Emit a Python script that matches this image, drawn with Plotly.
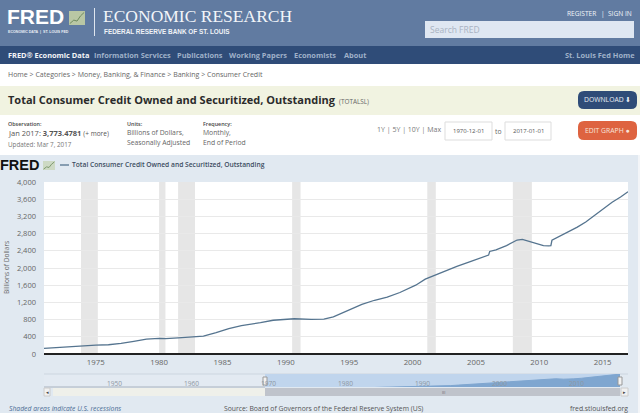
import plotly.graph_objects as go

# ---- data ----
series_name = "Total Consumer Credit Owned and Securitized, Outstanding"
early_dates = ["1943-01-01", "1946-01-01", "1950-01-01", "1955-01-01", "1960-01-01", "1965-01-01", "1968-01-01"]
early_values = [6, 6, 20, 40, 60, 90, 110]
dates = ["1970-12-01", "1972-01-01", "1973-01-01", "1974-01-01", "1975-01-01", "1976-01-01", "1977-01-01",
         "1978-01-01", "1979-01-01", "1980-01-01", "1980-07-01", "1981-07-01", "1982-07-01", "1983-07-01",
         "1984-07-01", "1985-07-01", "1986-07-01", "1987-01-01", "1988-01-01", "1989-01-01", "1990-01-01",
         "1990-09-01", "1992-01-01", "1993-01-01", "1993-10-01", "1995-01-01", "1996-01-01", "1997-01-01",
         "1998-01-01", "1999-01-01", "2000-04-01", "2001-01-01", "2002-01-01", "2002-09-01", "2003-07-01",
         "2004-07-01", "2005-11-01", "2006-01-01", "2006-02-01", "2006-08-01", "2007-06-01", "2008-04-01",
         "2008-09-01", "2009-09-01", "2010-05-01", "2010-10-01", "2010-12-01", "2011-01-01", "2012-01-01",
         "2013-01-01", "2013-09-01", "2015-01-01", "2015-10-01", "2016-06-01", "2017-01-01"]
values = [132, 155, 175, 190, 205, 215, 245, 295, 345, 362, 358, 375, 395, 415, 495, 590, 660, 680, 730, 785, 815,
          820, 805, 812, 866, 1030, 1155, 1250, 1325, 1430, 1600, 1740, 1860, 1950, 2040, 2145, 2285, 2300, 2385,
          2420, 2520, 2650, 2665, 2570, 2520, 2515, 2520, 2645, 2790, 2950, 3070, 3360, 3530, 3650, 3773]
recession_starts = ["1973-11-01", "1980-01-01", "1981-07-01", "1990-07-01", "2001-03-01", "2007-12-01"]
recession_ends = ["1975-03-01", "1980-07-01", "1982-11-01", "1991-03-01", "2001-11-01", "2009-06-01"]
y_ticks = [0, 400, 800, 1200, 1600, 2000, 2400, 2800, 3200, 3600, 4000]
x_tick_years = [1975, 1980, 1985, 1990, 1995, 2000, 2005, 2010, 2015]
nav_tick_years = [1950, 1960, 1970, 1980, 1990, 2000, 2010]

W, H = 640, 413
def px(x): return x / W
def py(y): return 1 - y / H

shapes, ann = [], []
def rect(x0, y0, x1, y1, color, line=None, layer="below"):
    shapes.append(dict(type="rect", xref="paper", yref="paper", x0=px(x0), x1=px(x1), y0=py(y0), y1=py(y1),
                       fillcolor=color, line=dict(color=line or color, width=1 if line else 0), layer=layer))
def rrect(x0, y0, x1, y1, r, color):
    # rounded button outline in page pixels
    xs = lambda v: px(v)
    ys = lambda v: py(v)
    p = (f"M {xs(x0 + r)} {ys(y0)} L {xs(x1 - r)} {ys(y0)} Q {xs(x1)} {ys(y0)} {xs(x1)} {ys(y0 + r)} "
         f"L {xs(x1)} {ys(y1 - r)} Q {xs(x1)} {ys(y1)} {xs(x1 - r)} {ys(y1)} L {xs(x0 + r)} {ys(y1)} "
         f"Q {xs(x0)} {ys(y1)} {xs(x0)} {ys(y1 - r)} L {xs(x0)} {ys(y0 + r)} Q {xs(x0)} {ys(y0)} {xs(x0 + r)} {ys(y0)} Z")
    shapes.append(dict(type="path", xref="paper", yref="paper", path=p, fillcolor=color, line=dict(width=0), layer="below"))
def hline(x0, x1, y, color, w=1):
    shapes.append(dict(type="line", xref="paper", yref="paper", x0=px(x0), x1=px(x1), y0=py(y), y1=py(y),
                       line=dict(color=color, width=w), layer="below"))
def spark(x0, y0, x1, y1, color):
    # small rising line of the FRED logo
    w, h = x1 - x0, y1 - y0
    fr = [(0.05, 0.9), (0.3, 0.65), (0.5, 0.72), (0.72, 0.35), (0.95, 0.1)]
    p = "M " + " L ".join(f"{px(x0 + a * w)} {py(y0 + b * h)}" for a, b in fr)
    shapes.append(dict(type="path", xref="paper", yref="paper", path=p, line=dict(color=color, width=1), layer="below"))
def text(x, y, s, size=9, color="#555555", anchor="left", font="Open Sans", weight=None, italic=False):
    f = dict(size=size, color=color, family=font)
    if weight: f["weight"] = weight
    if italic: f["style"] = "italic"
    ann.append(dict(xref="paper", yref="paper", x=px(x), y=py(y), text=s, showarrow=False, xanchor=anchor,
                    yanchor="middle", font=f, borderpad=0, borderwidth=0))

# page bands
rect(0, 0, 640, 46, "#617ba1")
rect(0, 46, 640, 64, "#2f4c78")
rect(0, 64, 640, 86, "#ffffff")
rect(0, 86, 640, 115, "#f1f3e1")
rect(0, 115, 640, 155, "#ffffff")
rect(0, 155, 640, 413, "#e1e9f1")
rect(638, 155, 640, 413, "#f3f5f8")
rect(44, 182, 628, 354, "#ffffff")

# header
text(7, 17, "FRED", 21, "#ffffff", font="Liberation Sans", weight=700)
rect(69, 11, 85, 25, "#b9c7a4")
spark(69, 11, 85, 25, "#6f8a5f")
text(8, 32, "ECONOMIC DATA  |  ST. LOUIS FED", 3.6, "#e8edf4", font="Liberation Sans", weight=700)
shapes.append(dict(type="line", xref="paper", yref="paper", x0=px(94.5), x1=px(94.5), y0=py(8), y1=py(36),
                   line=dict(color="#dfe6ef", width=1)))
text(103, 16, "ECONOMIC RESEARCH", 17.5, "#f2f5f9", font="Liberation Serif")
text(104, 31, "FEDERAL RESERVE BANK OF ST. LOUIS", 6.4, "#f0f3f7", font="Liberation Sans", weight=700)
text(567, 13.5, "REGISTER", 6.6, "#f2f5f9", font="Open Sans")
text(601, 13.5, "|", 6.6, "#f2f5f9")
text(608, 13.5, "SIGN IN", 6.6, "#f2f5f9", font="Open Sans")
rect(425, 21, 634, 38, "#dfe7f2")
text(430, 29.5, "Search FRED", 8.5, "#a9b3c2")

# navigation bar
text(8, 55, "FRED\u00ae Economic Data", 7.4, "#f3f5f8", font="Open Sans", weight=700)
text(94, 55, "Information Services", 7.4, "#9fb1c9", font="Open Sans", weight=700)
text(177, 55, "Publications", 7.4, "#9fb1c9", font="Open Sans", weight=700)
text(229, 55, "Working Papers", 7.4, "#9fb1c9", font="Open Sans", weight=700)
text(294, 55, "Economists", 7.4, "#9fb1c9", font="Open Sans", weight=700)
text(344, 55, "About", 7.4, "#9fb1c9", font="Open Sans", weight=700)
text(565, 55, "St. Louis Fed Home", 7.4, "#9fb1c9", font="Open Sans", weight=700)

# breadcrumb and title
text(8, 74.5, "Home > Categories > Money, Banking, & Finance > Banking > Consumer Credit", 7, "#666666")
text(8, 100, "Total Consumer Credit Owned and Securitized, Outstanding", 11, "#2b2b2b", weight=700)
text(339, 101, "(TOTALSL)", 6.4, "#666666")
rrect(578, 91, 637, 109, 6, "#2f4c78")
text(607.5, 100, "DOWNLOAD \u2b07", 6.8, "#e8edf4", anchor="center")

# info row
text(8, 124, "Observation:", 5.4, "#444444", weight=600)
text(8, 133.5, "Jan 2017: <b>3,773.4781</b> <span style='font-size:6.5px'>(+ more)</span>", 7.5, "#555555")
text(8, 144, "Updated: Mar 7, 2017", 6.3, "#777777")
text(127, 124, "Units:", 5.4, "#444444", weight=600)
text(127, 132.5, "Billions of Dollars,", 6.8, "#666666")
text(127, 142, "Seasonally Adjusted", 6.8, "#666666")
text(203, 124, "Frequency:", 5.4, "#444444", weight=600)
text(203, 132.5, "Monthly,", 6.8, "#666666")
text(203, 142, "End of Period", 6.8, "#666666")
text(377, 130, "1Y | 5Y | 10Y | Max", 7, "#777777")
rect(445, 122, 492, 140, "#ffffff", "#dddddd")
text(468.5, 131, "1970-12-01", 6, "#555555", anchor="center")
text(495, 131, "to", 6.8, "#666666")
rect(505, 122, 551, 140, "#ffffff", "#dddddd")
text(528, 131, "2017-01-01", 6, "#555555", anchor="center")
rrect(578, 121, 637, 140, 6, "#de6340")
text(607.5, 130.5, "EDIT GRAPH \u25cf", 6.8, "#f7e3da", anchor="center")

# chart header with legend entry
text(0, 165, "FRED", 14.5, "#111111", font="Liberation Sans", weight=700)
rect(43, 161, 55, 170, "#cdd9c4")
spark(43, 161, 55, 170, "#7f9a70")
hline(60, 69, 165, "#55748f", 1.3)
text(72, 165, series_name, 6.7, "#3c4c5f", weight=600)

# recessions
for s, e in zip(recession_starts, recession_ends):
    shapes.append(dict(type="rect", xref="x", yref="y", x0=s, x1=e, y0=0, y1=4000, fillcolor="#e6e6e6",
                       line=dict(width=0), layer="below"))

# navigator
rect(44, 374, 620, 387, "#e3eaf2")
hline(44, 628, 374, "#ccd5df")
rect(265, 374, 620, 387, "#c0d5ed")
hline(44, 265, 387, "#a9b3bf")
rect(53, 388, 265, 396, "#eff0ea")
rect(265, 388, 620, 396, "#bfc3cb")
text(443, 392, "III", 4, "#666666", anchor="center")
rect(44, 388, 50, 396, "#f1f1f1", "#cccccc")
text(47, 392, "\u25c2", 5, "#444444", anchor="center")
rect(621, 388, 628, 396, "#f1f1f1", "#cccccc")
text(624.5, 392, "\u25b8", 5, "#444444", anchor="center")
for hx in (265, 620):
    rect(hx - 2, 377, hx + 2, 385, "#f2f2f2", "#999999", layer="above")
for yr in nav_tick_years:
    ann.append(dict(xref="x2", yref="paper", x=f"{yr}-01-01", y=py(383), xshift=1, text=str(yr), showarrow=False,
                    xanchor="left", yanchor="middle", font=dict(size=6.6, color="#8e98a3", family="Open Sans")))

# footer
text(9, 408, "Shaded areas indicate U.S. recessions", 6.8, "#4a6a94", italic=True)
text(224, 408, "Source: Board of Governors of the Federal Reserve System (US)", 6.8, "#555555")
text(570, 408, "fred.stlouisfed.org", 6.8, "#555555")

# axis title
ann.append(dict(xref="paper", yref="paper", x=px(6), y=py(268), text="Billions of Dollars", showarrow=False,
                textangle=-90, xanchor="center", yanchor="middle", font=dict(size=6.6, color="#666666", family="Open Sans")))

fig = go.Figure()
fig.add_trace(go.Scatter(x=dates, y=values, mode="lines", name=series_name, showlegend=False,
                         line=dict(color="#55748f", width=1.3), xaxis="x", yaxis="y", hoverinfo="skip"))
fig.add_trace(go.Scatter(x=early_dates + dates, y=early_values + values, mode="lines", showlegend=False,
                         fill="tozeroy", fillcolor="#7fa6d0", line=dict(color="#7fa6d0", width=1),
                         xaxis="x2", yaxis="y2", hoverinfo="skip"))

fig.update_layout(
    width=W, height=H, margin=dict(l=0, r=0, t=0, b=0, pad=0), autosize=False,
    paper_bgcolor="#e1e9f1", plot_bgcolor="rgba(0,0,0,0)",
    font=dict(family="Open Sans", color="#666666"),
    shapes=shapes, annotations=ann,
    xaxis=dict(type="date", domain=[px(44), px(628)], range=["1970-12-01", "2017-01-01"], anchor="y",
               tickvals=[f"{y}-01-01" for y in x_tick_years], ticktext=[str(y) for y in x_tick_years],
               showgrid=False, zeroline=False, showline=False, ticks="", ticklabelstandoff=2, automargin=False,
               tickfont=dict(size=7.8, color="#666666", family="Open Sans")),
    yaxis=dict(domain=[py(354), py(182)], range=[0, 4000], anchor="x", tickvals=y_ticks, automargin=False,
               tickformat=",d", gridcolor="#e9e9e9", gridwidth=1, zeroline=True, zerolinecolor="#222222",
               zerolinewidth=1.5, ticks="", ticklabelstandoff=7, tickfont=dict(size=7.5, color="#666666", family="Open Sans")),
    xaxis2=dict(type="date", domain=[px(44), px(620)], range=["1942-03-01", "2017-01-01"], anchor="y2",
                visible=False, automargin=False),
    yaxis2=dict(domain=[py(387), py(374)], range=[700, 3800], anchor="x2", visible=False, automargin=False),
)
fig.write_html("out.html", config=dict(displayModeBar=False),
               post_script="document.body.style.margin='0';document.body.style.overflow='hidden';")
